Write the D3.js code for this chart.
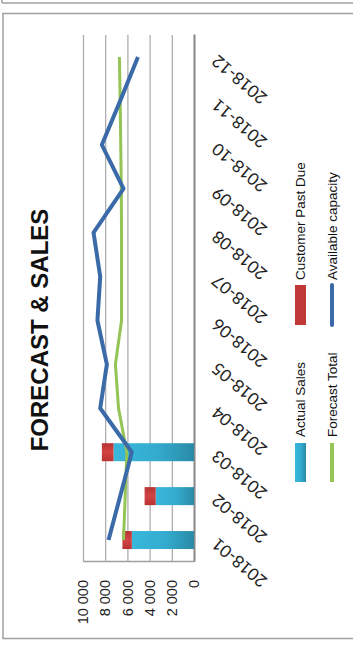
<!DOCTYPE html>
<html><head><meta charset="utf-8">
<script src="https://cdn.jsdelivr.net/npm/d3@7"></script>
<style>html,body{margin:0;padding:0;background:#fff;}svg{display:block;}</style>
</head><body>
<script>
const categories = ["2018-01","2018-02","2018-03","2018-04","2018-05","2018-06","2018-07","2018-08","2018-09","2018-10","2018-11","2018-12"];
const actualSales = [5600, 3450, 7250, null, null, null, null, null, null, null, null, null];
const customerPastDue = [850, 1000, 1050, null, null, null, null, null, null, null, null, null];
const forecastTotal = [6350, 6200, 6050, 6800, 7080, 6530, 6530, 6530, 6550, 6600, 6650, 6720];
const availableCapacity = [7700, 6650, 5600, 8450, 7850, 8700, 8450, 9050, 6350, 8300, 6650, 5050];
const yTickValues = [0, 2000, 4000, 6000, 8000, 10000];
const yTickLabels = ["0", "2 000", "4 000", "6 000", "8 000", "10 000"];
const title = "FORECAST & SALES";
const legendItems = ["Actual Sales", "Customer Past Due", "Forecast Total", "Available capacity"];

const W = 353, H = 652;
const svg = d3.select("body").append("svg").attr("width", W).attr("height", H);

const defs = svg.append("defs");
const gb = defs.append("linearGradient").attr("id","gBlue").attr("x1","0").attr("y1","0").attr("x2","0").attr("y2","1");
gb.append("stop").attr("offset","0").attr("stop-color","#38b8dc");
gb.append("stop").attr("offset","0.55").attr("stop-color","#33abce");
gb.append("stop").attr("offset","1").attr("stop-color","#2a8aa6");
const gr = defs.append("linearGradient").attr("id","gRed").attr("x1","0").attr("y1","0").attr("x2","1").attr("y2","0");
gr.append("stop").attr("offset","0").attr("stop-color","#b83232");
gr.append("stop").attr("offset","0.5").attr("stop-color","#d24444");
gr.append("stop").attr("offset","1").attr("stop-color","#b83232");

// frames (screen coords)
svg.append("line").attr("x1",2).attr("x2",360).attr("y1",3).attr("y2",3).attr("stroke","#a0a0a0").attr("stroke-width",1.5);
svg.append("line").attr("x1",2).attr("x2",2).attr("y1",-5).attr("y2",3).attr("stroke","#a0a0a0").attr("stroke-width",1.5);
svg.append("rect").attr("x",3).attr("y",13.5).attr("width",370).attr("height",625).attr("fill","none").attr("stroke","#a0a0a0").attr("stroke-width",1.5);

// rotated chart group: original coords (ox, oy) -> screen (oy, H - ox)
const g = svg.append("g").attr("transform", `translate(0,${H}) rotate(-90)`);

const x = d3.scaleBand().domain(categories).range([90, 617]).paddingInner(0.59).paddingOuter(0.295);
const y = d3.scaleLinear().domain([0, 10000]).range([194, 83]);
const cx = c => x(c) + x.bandwidth() / 2;

// grid + value axis
const yAxis = d3.axisLeft(y).tickValues(yTickValues).tickFormat((d, i) => yTickLabels[i])
  .tickSize(-(617 - 90)).tickSizeOuter(0).tickPadding(18);
const ya = g.append("g").attr("transform", "translate(90,0)").call(yAxis);
ya.select(".domain").attr("stroke", "#a0a0a0").attr("stroke-width", 1.5);
ya.selectAll(".tick line").attr("stroke", "#a8a8a8").attr("stroke-width", 1.2);
ya.selectAll(".tick text").attr("font-family", "Liberation Sans, Arial, sans-serif").attr("font-size", 14.5).attr("fill", "#222");

// category axis
const xAxis = d3.axisBottom(x).tickSize(0).tickFormat("");
const xa = g.append("g").attr("transform", "translate(0,194)").call(xAxis);
xa.select(".domain").attr("stroke", "#8a8a8a").attr("stroke-width", 2);

g.append("g").selectAll("text").data(categories).join("text")
  .attr("transform", d => `translate(${cx(d) - 2},${214}) rotate(-50)`)
  .attr("text-anchor", "end")
  .attr("dominant-baseline", "central")
  .attr("font-family", "Lato, sans-serif")
  .attr("font-size", 17)
  .attr("fill", "#222")
  .text(d => d);

// bars
const barData = categories.map((c, i) => ({c, a: actualSales[i], p: customerPastDue[i]})).filter(d => d.a != null);
g.append("g").selectAll("rect").data(barData).join("rect")
  .attr("x", d => x(d.c)).attr("width", x.bandwidth())
  .attr("y", d => y(d.a)).attr("height", d => y(0) - y(d.a))
  .attr("fill", "url(#gBlue)");
g.append("g").selectAll("rect").data(barData).join("rect")
  .attr("x", d => x(d.c)).attr("width", x.bandwidth())
  .attr("y", d => y(d.a + d.p)).attr("height", d => y(d.a) - y(d.a + d.p))
  .attr("fill", "url(#gRed)");

// lines
const line = d3.line().x(d => cx(d.c)).y(d => y(d.v));
g.append("path").datum(categories.map((c, i) => ({c, v: forecastTotal[i]})))
  .attr("d", line).attr("fill", "none").attr("stroke", "#94c356").attr("stroke-width", 3).attr("stroke-linejoin","round");
g.append("path").datum(categories.map((c, i) => ({c, v: availableCapacity[i]})))
  .attr("d", line).attr("fill", "none").attr("stroke", "#3b6aa9").attr("stroke-width", 4).attr("stroke-linejoin","round");

// title
g.append("text").attr("x", 322).attr("y", 48).attr("text-anchor", "middle")
  .attr("font-family", "Liberation Sans, Arial, sans-serif").attr("font-weight", "bold").attr("font-size", 24)
  .attr("fill", "#111").text(title);

// legend
const leg = g.append("g").attr("font-family", "Liberation Sans, Arial, sans-serif").attr("font-size", 13.5).attr("fill", "#111");
const legPos = [[170, 300.5], [327, 300.5], [170, 332], [327, 332]];
leg.append("rect").attr("x", legPos[0][0]).attr("y", legPos[0][1] - 5.5).attr("width", 39).attr("height", 11).attr("fill", "url(#gBlue)");
leg.append("rect").attr("x", legPos[1][0]).attr("y", legPos[1][1] - 5.5).attr("width", 40).attr("height", 11).attr("fill", "#c03838");
leg.append("line").attr("x1", legPos[2][0]).attr("x2", legPos[2][0] + 39).attr("y1", legPos[2][1]).attr("y2", legPos[2][1]).attr("stroke", "#94c356").attr("stroke-width", 4);
leg.append("line").attr("x1", legPos[3][0]).attr("x2", legPos[3][0] + 40).attr("y1", legPos[3][1]).attr("y2", legPos[3][1]).attr("stroke", "#3b6aa9").attr("stroke-width", 4).attr("stroke-linecap","round");
leg.selectAll("text").data(legendItems).join("text")
  .attr("x", (d, i) => legPos[i][0] + 45).attr("y", (d, i) => legPos[i][1])
  .attr("dominant-baseline", "central").text(d => d);
</script>
</body></html>
